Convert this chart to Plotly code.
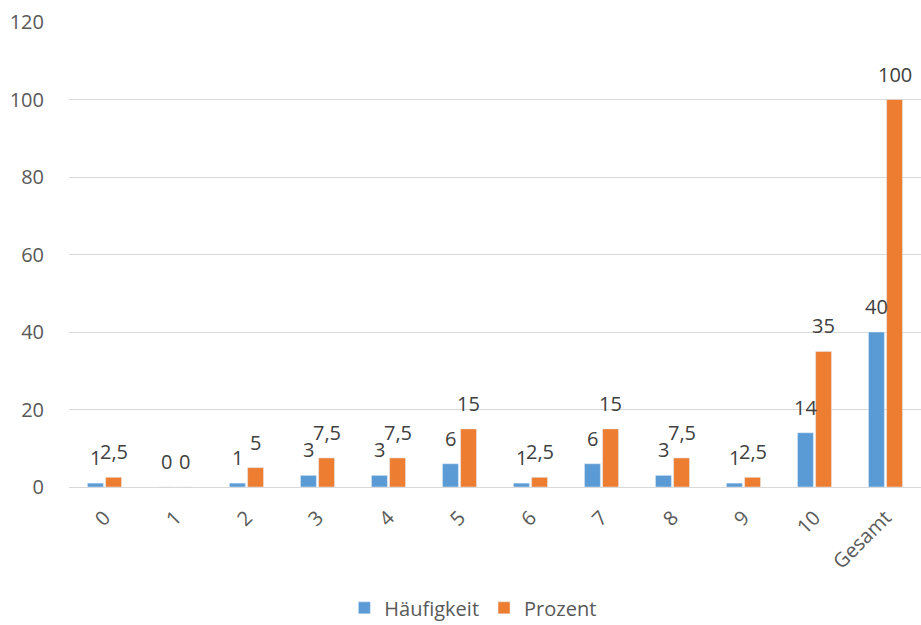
import plotly.graph_objects as go

categories = ["0", "1", "2", "3", "4", "5", "6", "7", "8", "9", "10", "Gesamt"]
haeufigkeit = [1, 0, 1, 3, 3, 6, 1, 6, 3, 1, 14, 40]
prozent = [2.5, 0, 5, 7.5, 7.5, 15, 2.5, 15, 7.5, 2.5, 35, 100]
y_ticks = [0, 20, 40, 60, 80, 100, 120]


def fmt(v):
    # German decimal comma
    s = f"{v:g}"
    return s.replace(".", ",")


font_family = "Open Sans, Liberation Sans, sans-serif"
label_font = dict(size=20, color="#404040", family=font_family)

BARGAP = 0.49
GROUPGAP = 0.12
PLOT_LEFT, PLOT_RIGHT = 69, 921
cat_px = (PLOT_RIGHT - PLOT_LEFT) / len(categories)
slot_px = cat_px * (1 - BARGAP) / 2  # width of one trace slot in pixels
label_dx = slot_px / 2               # bar centre offset from category centre

fig = go.Figure()
fig.add_trace(go.Bar(name="Häufigkeit", x=categories, y=haeufigkeit,
                     marker_color="#5B9BD5"))
fig.add_trace(go.Bar(name="Prozent", x=categories, y=prozent,
                     marker_color="#ED7D31"))

# value labels above each bar
for values, dx in ((haeufigkeit, -label_dx), (prozent, label_dx)):
    for cat, v in zip(categories, values):
        fig.add_annotation(
            x=cat, y=v, xref="x", yref="y", text=fmt(v), showarrow=False,
            xanchor="center", yanchor="bottom", xshift=dx, yshift=10,
            font=label_font,
        )

fig.update_layout(
    width=921, height=625,
    margin=dict(l=PLOT_LEFT, r=921 - PLOT_RIGHT, t=22, b=138,
                autoexpand=False),
    paper_bgcolor="white", plot_bgcolor="white",
    barmode="group", bargap=BARGAP, bargroupgap=GROUPGAP,
    font=dict(family=font_family, size=20, color="#595959"),
    legend=dict(
        orientation="h", x=0.474, xanchor="center",
        y=-0.218, yanchor="top",
        font=dict(size=20, color="#595959"), itemwidth=30,
        traceorder="normal",
    ),
    showlegend=True,
)
fig.update_xaxes(
    type="category", categoryorder="array", categoryarray=categories,
    range=[-0.5, len(categories) - 0.5],
    tickangle=-45, showgrid=False, showline=False,
    ticks="outside", ticklen=10, tickcolor="rgba(0,0,0,0)",
    tickfont=dict(size=20, color="#595959"), automargin=False,
)
fig.update_yaxes(
    range=[0, 120], tickvals=y_ticks, showgrid=True, gridcolor="#D9D9D9",
    gridwidth=1, zeroline=True, zerolinecolor="#D9D9D9", zerolinewidth=1,
    ticks="outside", ticklen=20, tickcolor="rgba(0,0,0,0)",
    tickfont=dict(size=20, color="#595959"), automargin=False,
)

fig.write_html("out.html")
